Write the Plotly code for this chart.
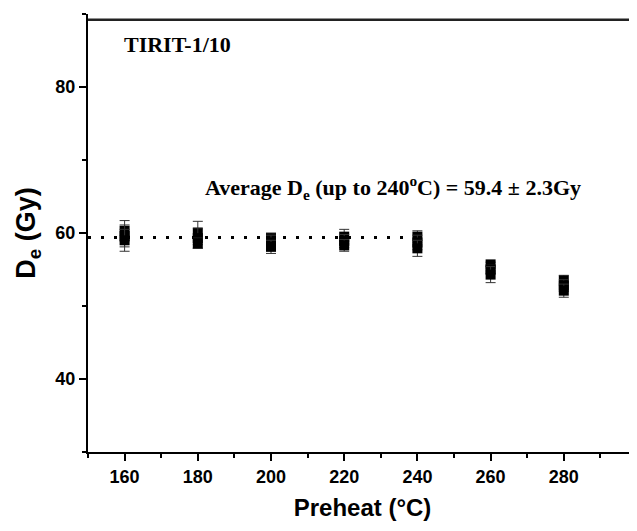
import plotly.graph_objects as go

# preheat temperatures and equivalent dose of three aliquots each
preheat = [160, 180, 200, 220, 240, 260, 280]
de_a = [60.3, 60.0, 59.3, 59.5, 59.5, 55.7, 53.5]
de_b = [59.6, 59.3, 58.7, 58.9, 58.7, 55.0, 52.8]
de_c = [59.0, 58.6, 58.1, 58.3, 57.9, 54.3, 52.1]
err_a = [1.4, 1.6, 0.7, 1.0, 0.8, 0.3, 0.7]
err_b = [1.5, 1.4, 1.0, 0.9, 1.0, 0.6, 0.8]
err_c = [1.5, 0.7, 0.9, 0.8, 1.1, 1.1, 0.9]

avg_x = [150, 240]
avg_de = [59.4, 59.4]

fig = go.Figure()

# average line (up to 240 C)
fig.add_trace(go.Scatter(x=avg_x, y=avg_de, mode='lines',
                         line=dict(color='black', width=3, dash='3px,10px'),
                         showlegend=False, hoverinfo='skip'))

for vals, errs in [(de_a, err_a), (de_b, err_b), (de_c, err_c)]:
    fig.add_trace(go.Scatter(
        x=preheat, y=vals, mode='markers',
        marker=dict(symbol='square', size=10, color='black'),
        error_y=dict(type='data', array=errs, visible=True,
                     color='#333333', thickness=1, width=5),
        showlegend=False))

serif = 'Liberation Serif, Times New Roman, serif'
sans = 'Liberation Sans, Arial, sans-serif'

fig.add_annotation(x=0.062, y=0.93, xref='paper', yref='paper',
                   text='<b>TIRIT-1/10</b>', showarrow=False,
                   xanchor='left', yanchor='middle',
                   font=dict(family=serif, size=22, color='black'))
fig.add_annotation(x=0.556, y=0.603, xref='paper', yref='paper',
                   text='<b>Average D<sub>e</sub> (up to 240<sup>o</sup>C) = 59.4 \u00b1 2.3Gy</b>',
                   showarrow=False, xanchor='center', yanchor='middle',
                   font=dict(family=serif, size=22, color='black'))

# top frame line (right side of the frame is cut off)
fig.add_shape(type='line', xref='paper', yref='paper', x0=0, x1=1, y0=0.987, y1=0.987,
              layer='above', line=dict(color='#222222', width=2.5))

# page body adds an 8px offset, so margins are shifted by 8px
fig.update_layout(
    width=637, height=531,
    margin=dict(l=80, r=8, t=6, b=87),
    plot_bgcolor='white', paper_bgcolor='white',
    font=dict(family=sans, color='black'),
    xaxis=dict(
        range=[150, 300], tickvals=[160, 180, 200, 220, 240, 260, 280],
        ticks='outside', ticklen=7, tickwidth=1.5, tickcolor='black',
        minor=dict(dtick=10, tick0=150, ticks='outside', ticklen=4, tickcolor='black'),
        showline=True, linecolor='black', linewidth=2,
        showgrid=False, zeroline=False, automargin=False,
        tickfont=dict(family=sans, size=18, weight='bold'),
        title=dict(text='<b>Preheat (\u00b0C)</b>', font=dict(family=sans, size=24), standoff=14),
    ),
    yaxis=dict(
        range=[30, 90], tickvals=[40, 60, 80],
        ticks='outside', ticklen=7, tickwidth=1.5, tickcolor='black',
        minor=dict(dtick=10, tick0=30, ticks='outside', ticklen=4, tickcolor='black'),
        showline=True, linecolor='black', linewidth=2,
        showgrid=False, zeroline=False, automargin=False,
        tickfont=dict(family=sans, size=18, weight='bold'),
        title=dict(text='<b>D<sub>e</sub> (Gy)</b>', font=dict(family=sans, size=27), standoff=12),
    ),
)

fig.write_html("out.html", config={'displayModeBar': False})
